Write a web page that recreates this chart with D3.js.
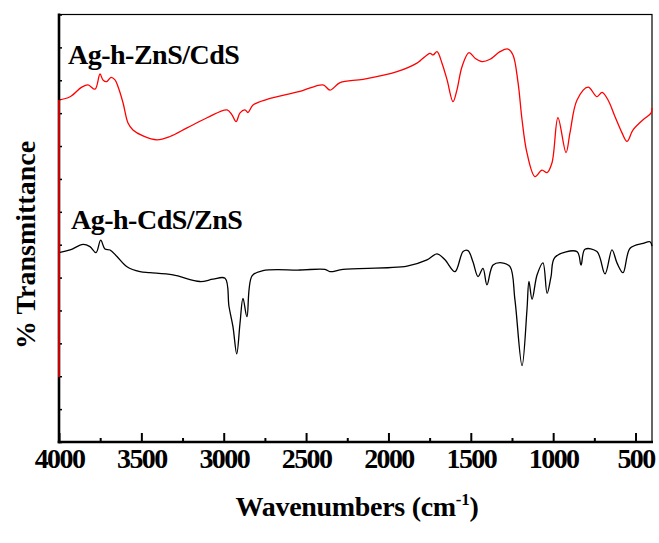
<!DOCTYPE html>
<html><head><meta charset="utf-8">
<script src="https://cdn.jsdelivr.net/npm/d3@7"></script>
<style>body{margin:0;background:#fff}</style>
</head><body>
<svg id="c" width="659" height="543"></svg>
<script>
// ---- data ----
const redWavenumbers = [4000,4000,3933,3862,3824,3781,3751,3733,3710,3684,3660,3642,3611,3581,3551,3490,3405,3326,3223,3101,2980,2950,2925,2901,2871,2853,2822,2737,2537,2397,2355,2294,2154,1948,1827,1748,1729,1705,1675,1644,1608,1584,1553,1511,1474,1432,1383,1323,1274,1244,1213,1189,1159,1110,1068,1037,1007,971,922,898,855,788,734,703,667,625,582,552,515,454,406,400];
const redValues      = [19.8,104.0,105.0,107.9,108.6,107.3,111.9,110.1,109.6,110.9,110.1,108.1,103.1,97.0,94.9,93.1,91.9,92.9,95.5,98.6,101.0,99.5,97.4,100.1,101.0,100.2,102.5,104.2,106.6,108.6,107.0,109.3,110.3,112.6,115.2,118.2,117.7,118.7,115.2,110.1,103.5,107.1,114.2,118.4,116.7,115.7,116.4,118.7,119.5,117.7,109.2,98.0,87.9,80.7,82.7,81.9,84.9,98.6,88.0,94.0,104.0,107.9,105.0,106.3,104.0,99.0,94.0,91.4,94.9,98.0,100.0,101.6];
const blackWavenumbers = [4000,3933,3854,3812,3775,3747,3721,3690,3648,3587,3508,3448,3308,3144,3065,2992,2968,2944,2921,2901,2883,2859,2828,2762,2537,2385,2355,2276,1887,1766,1705,1657,1596,1547,1517,1487,1456,1426,1402,1365,1311,1262,1232,1189,1159,1147,1128,1098,1062,1037,1013,989,855,831,807,734,685,643,612,576,533,454,412,400];
const blackValues      = [57.6,58.4,60.1,59.4,57.6,61.4,58.7,58.4,56.4,53.3,51.8,51.5,50.8,48.8,49.5,49.8,41.2,35.1,26.8,36.2,43.7,38.1,50.5,52.1,52.3,52.5,51.8,52.5,53.5,55.4,57.2,55.4,51.8,57.9,58.2,54.8,50.3,52.8,47.8,53.8,54.5,53.3,43.2,23.2,40.2,48.8,43.4,50.8,54.5,45.2,50.3,56.2,57.9,53.8,58.6,57.9,51.1,58.4,54.4,51.5,58.9,60.4,60.9,59.6];
const xMajorTicks = [4000,3500,3000,2500,2000,1500,1000,500];
const xMinorTicks = [3750,3250,2750,2250,1750,1250,750];
const yTicks = [0,10,20,30,40,50,60,70,80,90,100,110,120,130];
const seriesLabels = ["Ag-h-ZnS/CdS","Ag-h-CdS/ZnS"];
const seriesColors = ["#ff0000","#000000"];

// ---- layout ----
const L = 59, R = 652, T = 14.5, B = 442;
const svg = d3.select("#c");
const x = d3.scaleLinear().domain([4000,400]).range([L,R]);
const y = d3.scaleLinear().domain([0,130]).range([B,T]);
const font = "'Liberation Serif','Times New Roman',serif";

// frame (thin top/right)
svg.append("rect").attr("x",L).attr("y",T).attr("width",R-L).attr("height",B-T)
  .attr("fill","none").attr("stroke","#000").attr("stroke-width",1.2);

// series
const red = redWavenumbers.map((w,i)=>[w,redValues[i]]);
const black = blackWavenumbers.map((w,i)=>[w,blackValues[i]]);
const smooth = d3.line().x(d=>x(d[0])).y(d=>y(d[1])).curve(d3.curveCatmullRom.alpha(0.5));
const straight = d3.line().x(d=>x(d[0])).y(d=>y(d[1]));
svg.append("path").datum(red.slice(1)).attr("d",smooth).attr("fill","none")
  .attr("stroke",seriesColors[0]).attr("stroke-width",1.3).attr("stroke-linejoin","round");
svg.append("path").datum(black).attr("d",smooth).attr("fill","none")
  .attr("stroke",seriesColors[1]).attr("stroke-width",1.3).attr("stroke-linejoin","round");

// bottom axis
const gx = svg.append("g").attr("transform",`translate(0,${B})`)
  .call(d3.axisBottom(x).tickValues(xMajorTicks).tickSize(-9).tickPadding(20).tickFormat(d3.format("d")));
gx.select(".domain").remove();
gx.selectAll(".tick line").attr("stroke-width",2);
gx.selectAll(".tick text").attr("font-family",font).attr("font-weight","bold")
  .attr("font-size",28).attr("fill","#000").attr("dy","0.2em").style("letter-spacing","-1.6px");
const gxm = svg.append("g").attr("transform",`translate(0,${B})`)
  .call(d3.axisBottom(x).tickValues(xMinorTicks).tickSize(-4).tickFormat(""));
gxm.select(".domain").remove();
gxm.selectAll(".tick line").attr("stroke-width",2);

// left axis
const gy = svg.append("g").attr("transform",`translate(${L},0)`)
  .call(d3.axisLeft(y).tickValues(yTicks).tickSize(-3).tickFormat(""));
gy.select(".domain").remove();
gy.selectAll(".tick line").attr("stroke-width",1.5);

// thick left and bottom axis lines
svg.append("line").attr("x1",L).attr("x2",L).attr("y1",T-1).attr("y2",B+1.3)
  .attr("stroke","#000").attr("stroke-width",2.6);
svg.append("line").attr("x1",L-1.3).attr("x2",R+1).attr("y1",B).attr("y2",B)
  .attr("stroke","#000").attr("stroke-width",2.6);
// red start segment sits on the axis (drawn on top, as in the reference)
svg.append("path").datum(red.slice(0,2)).attr("d",straight)
  .attr("stroke",seriesColors[0]).attr("stroke-width",1.6).attr("fill","none");

// series labels
const labelPos = [[68,64],[71,229]];
seriesLabels.forEach((t,i)=>{
  svg.append("text").attr("x",labelPos[i][0]).attr("y",labelPos[i][1])
    .attr("font-family",font).attr("font-weight","bold").attr("font-size",28)
    .style("letter-spacing","-0.5px").text(t);
});

// y title
svg.append("text").attr("transform","translate(35,245) rotate(-90)")
  .attr("text-anchor","middle").attr("font-family",font).attr("font-weight","bold")
  .attr("font-size",28).text("% Transmittance");

// x title
const xt = svg.append("text").attr("transform","translate(357,516)")
  .attr("text-anchor","middle").attr("font-family",font).attr("font-weight","bold")
  .attr("font-size",28).style("letter-spacing","-0.3px");
xt.append("tspan").text("Wavenumbers (cm");
xt.append("tspan").attr("font-size",17).attr("dy",-11).text("-1");
xt.append("tspan").attr("dy",11).text(")");
</script>
</body></html>
